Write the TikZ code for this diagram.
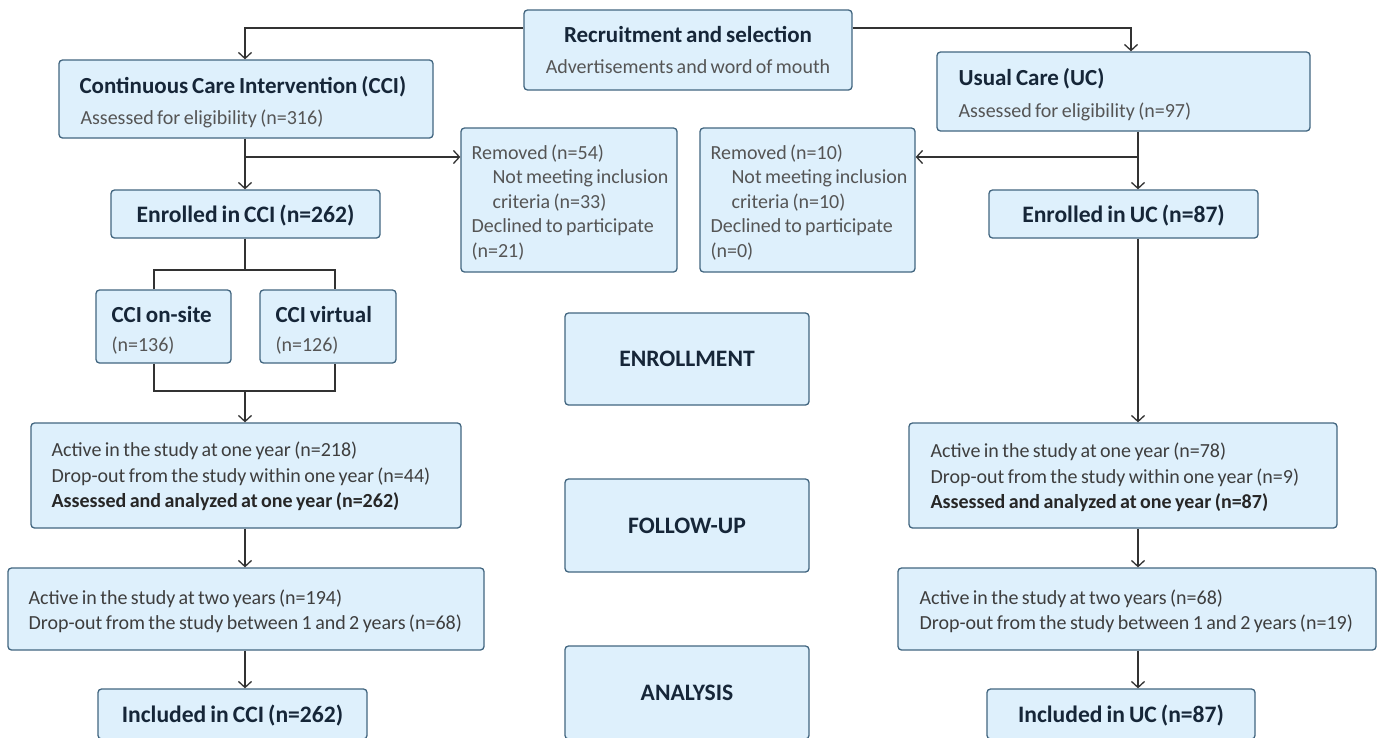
\documentclass[tikz,border=0pt]{standalone}
\usepackage{fontspec}
\setmainfont{Carlito}[WordSpace=0.75]
\usetikzlibrary{arrows.meta}
\definecolor{boxfill}{RGB}{222,240,252}
\definecolor{boxline}{RGB}{66,102,128}
\definecolor{linec}{RGB}{50,50,50}
\definecolor{titlec}{RGB}{22,38,56}
\definecolor{subc}{RGB}{85,85,85}
\definecolor{bodyc}{RGB}{62,62,62}
\tikzset{
  box/.style={draw=boxline, fill=boxfill, rounded corners=3.5pt, line width=1.3pt, inner sep=0pt},
  txt/.style={inner sep=0pt, anchor=west, align=left},
  regf/.style={font=\fontsize{20}{24.5}\selectfont},
  ttl/.style={font=\fontsize{23}{24.5}\selectfont\bfseries, text=titlec},
  big/.style={font=\fontsize{23.6}{24.5}\selectfont\bfseries, text=titlec},
  conn/.style={draw=linec, line width=1.3pt},
  arr/.style={conn, -{Straight Barb[length=6pt,width=13pt,line width=1.3pt]}},
}
\newcommand{\sub}[1]{{\fontsize{20}{24.5}\selectfont\mdseries\color{subc}#1}}
\begin{document}
\begin{tikzpicture}[x=1pt,y=-1pt]
\useasboundingbox (0,0) rectangle (1377,737);
% boxes
\node[box, minimum width=328, minimum height=80, align=center, ttl] (rec) at (688,50)
  {Recruitment and selection\\[7pt]\sub{Advertisements and word of mouth}};
\node[box, minimum width=374, minimum height=78] (cci) at (246,99) {};
\node[box, minimum width=373, minimum height=79] (uc) at (1123.5,91.5) {};
\node[box, minimum width=216, minimum height=144] (remL) at (569,200) {};
\node[box, minimum width=215, minimum height=144] (remR) at (807.5,200) {};
\node[box, minimum width=269, minimum height=48] (enrC) at (245.5,214) {};
\node[box, minimum width=269, minimum height=48] (enrU) at (1123.5,214) {};
\node[box, minimum width=135, minimum height=73] (onsite) at (163.5,326.5) {};
\node[box, minimum width=136, minimum height=73] (virt) at (328,326.5) {};
\node[box, minimum width=244, minimum height=92, big] (stEnr) at (687,359) {ENROLLMENT};
\node[box, minimum width=244, minimum height=93, big] (stFol) at (687,525.5) {FOLLOW-UP};
\node[box, minimum width=244, minimum height=93, big] (stAna) at (687,692.5) {ANALYSIS};
\node[box, minimum width=430, minimum height=105] (a1C) at (246,475.5) {};
\node[box, minimum width=428, minimum height=105] (a1U) at (1123,475.5) {};
\node[box, minimum width=476, minimum height=82] (a2C) at (246,609) {};
\node[box, minimum width=478, minimum height=82] (a2U) at (1137,609) {};
\node[box, minimum width=269, minimum height=50] (incC) at (232.5,714) {};
\node[box, minimum width=268, minimum height=50] (incU) at (1121,714) {};
% texts
\node[big, inner sep=0pt] (enrCT) at ([yshift=-2pt]enrC.center) {Enrolled in CCI (n=262)};
\node[big, inner sep=0pt] (enrUT) at ([yshift=-2pt]enrU.center) {Enrolled in UC (n=87)};
\node[big, inner sep=0pt] (incCT) at ([yshift=-2pt]incC.center) {Included in CCI (n=262)};
\node[big, inner sep=0pt] (incUT) at ([yshift=-2pt]incU.center) {Included in UC (n=87)};
\node[txt, ttl] (cciT) at ([xshift=21pt,yshift=-3pt]cci.west)
  {Continuous Care Intervention (CCI)\\[7pt]\sub{\hspace*{1pt}Assessed for eligibility (n=316)}};
\node[txt, ttl] (ucT) at ([xshift=22pt,yshift=-3pt]uc.west)
  {Usual Care (UC)\\[7pt]\sub{Assessed for eligibility (n=97)}};
\node[txt, regf, text=subc] (remLT) at ([xshift=11pt,yshift=-2.5pt]remL.west)
  {Removed (n=54)\\\hspace*{21pt}Not meeting inclusion\\\hspace*{21pt}criteria (n=33)\\Declined to participate\\(n=21)};
\node[txt, regf, text=subc] (remRT) at ([xshift=11pt,yshift=-2.5pt]remR.west)
  {Removed (n=10)\\\hspace*{21pt}Not meeting inclusion\\\hspace*{21pt}criteria (n=10)\\Declined to participate\\(n=0)};
\node[txt, ttl] (onsiteT) at ([xshift=16pt,yshift=-4pt]onsite.west)
  {CCI on-site\\[4pt]\sub{(n=136)}};
\node[txt, ttl] (virtT) at ([xshift=16pt,yshift=-4pt]virt.west)
  {CCI virtual\\[4pt]\sub{(n=126)}};
\node[txt, text=bodyc, font=\fontsize{20}{25.5}\selectfont] (a1CT) at ([xshift=21pt,yshift=-1pt]a1C.west)
  {Active in the study at one year (n=218)\\Drop-out from the study within one year (n=44)\\\textbf{\color{black!85}Assessed and analyzed at one year (n=262)}};
\node[txt, text=bodyc, font=\fontsize{20}{25.5}\selectfont] (a1UT) at ([xshift=22pt,yshift=-2pt]a1U.west)
  {Active in the study at one year (n=78)\\Drop-out from the study within one year (n=9)\\\textbf{\color{black!85}Assessed and analyzed at one year (n=87)}};
\node[txt, text=bodyc, font=\fontsize{20}{25}\selectfont] (a2CT) at ([xshift=21pt,yshift=-2pt]a2C.west)
  {Active in the study at two years (n=194)\\Drop-out from the study between 1 and 2 years (n=68)};
\node[txt, text=bodyc, font=\fontsize{20}{25}\selectfont] (a2UT) at ([xshift=22pt,yshift=-2pt]a2U.west)
  {Active in the study at two years (n=68)\\Drop-out from the study between 1 and 2 years (n=19)};
% connectors
\coordinate (tl) at (245,28);
\coordinate (tr) at (1131,28);
\draw[arr] (rec.west |- tl) -- (tl) -- (cci.north -| tl);
\draw[arr] (rec.east |- tr) -- (tr) -- (uc.north -| tr);
\coordinate (bl) at (245,157);
\draw[arr] (cci.south -| bl) -- (enrC.north -| bl);
\draw[arr] (bl) -- (remL.west |- bl);
\coordinate (br) at (1138,157);
\draw[arr] (uc.south -| br) -- (enrU.north -| br);
\draw[arr] (br) -- (remR.east |- br);
\coordinate (sp) at (245,270);
\draw[conn] (enrC.south -| sp) -- (sp);
\draw[conn] (onsite.north -| 154,0) |- (sp) -| (virt.north -| 335,0);
\coordinate (jn) at (245,391);
\draw[conn] (onsite.south -| 154,0) |- (jn) -| (virt.south -| 335,0);
\draw[arr] (jn) -- (a1C.north -| jn);
\draw[arr] (enrU.south -| br) -- (a1U.north -| br);
\draw[arr] (a1C.south -| jn) -- (a2C.north -| jn);
\draw[arr] (a2C.south -| jn) -- (incC.north -| jn);
\draw[arr] (a1U.south -| br) -- (a2U.north -| br);
\draw[arr] (a2U.south -| br) -- (incU.north -| br);
\end{tikzpicture}
\end{document}
